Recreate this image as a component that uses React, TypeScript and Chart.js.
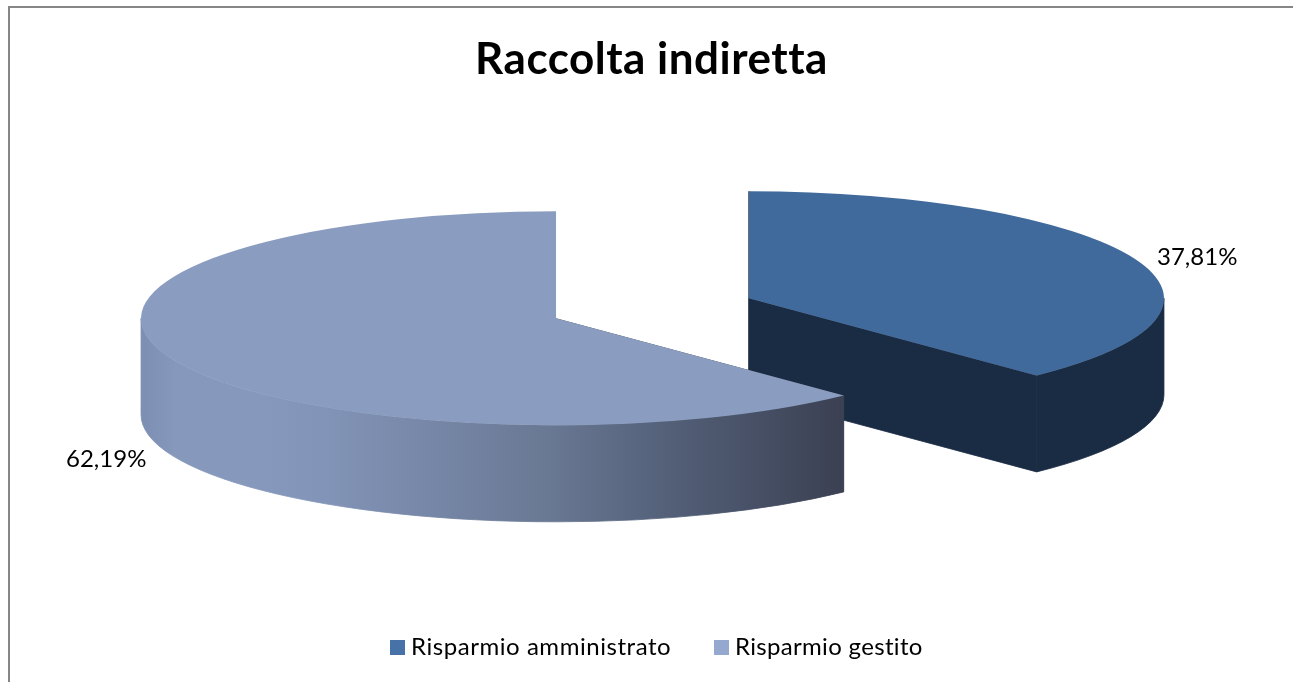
import React, { useEffect, useRef } from "react";
import { Chart, registerables } from "chart.js";

Chart.register(...registerables);

const chartTitle = "Raccolta indiretta";
const categories = ["Risparmio amministrato", "Risparmio gestito"];
const shares = [37.81, 62.19];
const topColors = ["#406a9c", "#8a9cbf"];
const legendColors = ["#4672a8", "#95a9d0"];
const sideColors = ["#1a2c44", null];
const explodeDistance = [104, 104];
const labelAnchors = [
  { x: 1157, y: 264.5 },
  { x: 66, y: 467 },
];
const legendTracking = [0.55, 0.32];

// Shading of the rounded wall of the larger slice, left to right.
const wallStops: [number, string][] = [
  [0, "#7c8fb2"],
  [0.05, "#8698bb"],
  [0.17, "#8698bb"],
  [0.27, "#8193b6"],
  [0.42, "#7686a6"],
  [0.58, "#697893"],
  [0.78, "#505c74"],
  [1, "#3b4052"],
];

const PIE_X = 652.5;
const PIE_Y = 308.3;
const RADIUS = 415;
const TILT = 107 / 415;
const DEPTH = 96.5;

const solidPie = {
  id: "solidPie",
  beforeDraw(chart: any) {
    const { ctx, width, height } = chart;
    ctx.save();
    ctx.fillStyle = "#868686";
    ctx.fillRect(8, 6, width - 8, 2);
    ctx.fillRect(8, 6, 2, height - 6);
    ctx.restore();
    // A little tracking for the title; it also keeps letter pairs unjoined.
    ctx.letterSpacing = "0.5px";
  },
  beforeDatasetDraw(chart: any) {
    const { ctx } = chart;
    const arcs = chart.getDatasetMeta(0).data;
    arcs.forEach((arc: any, i: number) => {
      const mid = (arc.startAngle + arc.endAngle) / 2;
      const d = explodeDistance[i];
      const cx = PIE_X + Math.cos(mid) * d;
      const cy = PIE_Y + Math.sin(mid) * d * TILT;
      const r = arc.outerRadius;
      const ry = r * TILT;
      const a0 = arc.startAngle;
      const a1 = arc.endAngle;

      let wallFill: any = sideColors[i];
      if (!wallFill) {
        const g = ctx.createLinearGradient(cx - r, 0, cx + r * Math.cos(a0), 0);
        wallStops.forEach(([p, c]) => g.addColorStop(p, c));
        wallFill = g;
      }

      // Flat cut faces of the slice.
      ctx.save();
      ctx.fillStyle = sideColors[i] || "#3b4052";
      ctx.strokeStyle = ctx.fillStyle;
      ctx.lineWidth = 0.8;
      [a0, a1].forEach((a) => {
        const ex = cx + Math.cos(a) * r;
        const ey = cy + Math.sin(a) * ry;
        ctx.beginPath();
        ctx.moveTo(cx, cy);
        ctx.lineTo(ex, ey);
        ctx.lineTo(ex, ey + DEPTH);
        ctx.lineTo(cx, cy + DEPTH);
        ctx.closePath();
        ctx.fill();
        if (sideColors[i]) ctx.stroke();
      });

      // Rounded outer wall: only the part on the near half shows.
      const from = Math.max(a0, 0);
      const to = Math.min(a1, Math.PI);
      if (to > from) {
        ctx.fillStyle = wallFill;
        ctx.strokeStyle = wallFill;
        ctx.beginPath();
        ctx.ellipse(cx, cy, r, ry, 0, from, to);
        ctx.ellipse(cx, cy + DEPTH, r, ry, 0, to, from, true);
        ctx.closePath();
        ctx.fill();
        ctx.stroke();
      }
      ctx.restore();

      // Top face: the library's arc, flattened and moved out along its bisector.
      ctx.save();
      ctx.translate(cx, cy);
      ctx.scale(1, TILT);
      ctx.translate(-arc.x, -arc.y);
      arc.draw(ctx);
      ctx.restore();
    });
    return false;
  },
  afterDatasetsDraw(chart: any) {
    const { ctx } = chart;
    ctx.save();
    ctx.fillStyle = "#000";
    ctx.textBaseline = "alphabetic";
    ctx.textAlign = "left";
    ctx.font = "24px Lato";
    ctx.letterSpacing = "0.01px";
    shares.forEach((v, i) => {
      const t = v.toFixed(2).replace(".", ",") + "%";
      ctx.fillText(t, labelAnchors[i].x, labelAnchors[i].y);
    });
    // Legend row
    const swatchX = [390, 714];
    const textX = [411, 735];
    categories.forEach((c, i) => {
      ctx.fillStyle = legendColors[i];
      ctx.fillRect(swatchX[i], 640, 15, 15);
      ctx.fillStyle = "#000";
      ctx.letterSpacing = legendTracking[i] + "px";
      ctx.fillText(c, textX[i], 655);
    });
    ctx.restore();
  },
};

export default function App() {
  const ref = useRef<HTMLCanvasElement>(null);
  useEffect(() => {
    const chart = new Chart(ref.current!, {
      type: "pie",
      data: {
        labels: categories,
        datasets: [
          {
            data: shares,
            backgroundColor: topColors,
            borderWidth: 0,
            clip: false,
          } as any,
        ],
      },
      options: {
        responsive: false,
        animation: false,
        radius: RADIUS,
        layout: { padding: { left: 10, top: 33 } },
        plugins: {
          legend: { display: false },
          tooltip: { enabled: false },
          title: {
            display: true,
            text: chartTitle,
            color: "#000",
            font: { family: "Lato", size: 44, weight: "bold" },
            padding: 0,
          },
        },
      } as any,
      plugins: [solidPie],
    });
    return () => chart.destroy();
  }, []);
  return (
    <div style={{ position: "fixed", left: 0, top: 0, width: 1293, height: 682, background: "#fff" }}>
      <canvas ref={ref} width={1293} height={682} style={{ display: "block" }} />
    </div>
  );
}
